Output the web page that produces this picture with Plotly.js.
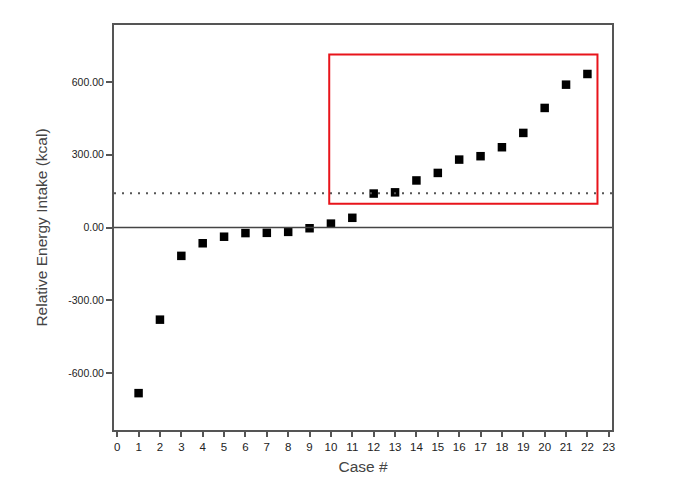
<!DOCTYPE html>
<html><head><meta charset="utf-8">
<script src="https://cdn.plot.ly/plotly-3.0.1.min.js"></script>
<style>html,body{margin:0;padding:0;background:#fff}#chart{width:700px;height:498px}</style>
</head><body><div id="chart"></div>
<script>
const cases = [1,2,3,4,5,6,7,8,9,10,11,12,13,14,15,16,17,18,19,20,21,22];
const relEnergy = [-683,-380,-117,-65,-38,-23,-22,-18,-3,16,40,140,145,194,225,280,294,331,390,493,589,633];
const yTickVals = [-600,-300,0,300,600];
const yTickText = ["-600.00","-300.00","0.00","300.00","600.00"];
const xTickVals = [0,1,2,3,4,5,6,7,8,9,10,11,12,13,14,15,16,17,18,19,20,21,22,23];
const cutoff = 141;
const boxX = [9.92, 22.47];
const boxY = [98, 713];

const trace = {
  x: cases, y: relEnergy, type: 'scatter', mode: 'markers',
  marker: {symbol: 'square', size: 8.5, color: '#000'},
  hoverinfo: 'x+y', showlegend: false
};
const axisCol = '#555';
const layout = {
  width: 700, height: 498,
  margin: {l: 114, r: 88, t: 25, b: 68},
  paper_bgcolor: '#fff', plot_bgcolor: '#fff',
  font: {family: 'Liberation Sans, Arial, sans-serif', color: '#333'},
  xaxis: {
    range: [-0.15, 23.15], tickvals: xTickVals, ticktext: xTickVals.map(String),
    showgrid: false, zeroline: false, showline: true, mirror: true,
    linecolor: axisCol, linewidth: 2, ticks: 'outside', ticklen: 5, tickwidth: 2, tickcolor: axisCol,
    tickfont: {size: 11.5, color: '#222'},
    title: {text: 'Case #', font: {size: 15.5, color: '#444'}, standoff: 9}
  },
  yaxis: {
    range: [-835, 835], tickvals: yTickVals, ticktext: yTickText,
    showgrid: false, zeroline: false, showline: true, mirror: true,
    linecolor: axisCol, linewidth: 2, ticks: 'outside', ticklen: 6, tickwidth: 2, tickcolor: axisCol,
    tickfont: {size: 10.5, color: '#222'},
    title: {text: 'Relative Energy Intake (kcal)', font: {size: 15.5, color: '#444'}, standoff: 17}
  },
  shapes: [
    {type: 'line', xref: 'paper', x0: 0, x1: 1, yref: 'y', y0: 0, y1: 0,
     line: {color: '#444', width: 1.5}},
    {type: 'line', xref: 'paper', x0: 0, x1: 1, yref: 'y', y0: cutoff, y1: cutoff,
     line: {color: '#555', width: 2, dash: '2px,6px'}},
    {type: 'rect', xref: 'x', yref: 'y', x0: boxX[0], x1: boxX[1], y0: boxY[0], y1: boxY[1],
     line: {color: '#e8141b', width: 2}, fillcolor: 'rgba(0,0,0,0)'}
  ]
};
Plotly.newPlot('chart', [trace], layout, {displayModeBar: false, staticPlot: true});
</script>
</body></html>
